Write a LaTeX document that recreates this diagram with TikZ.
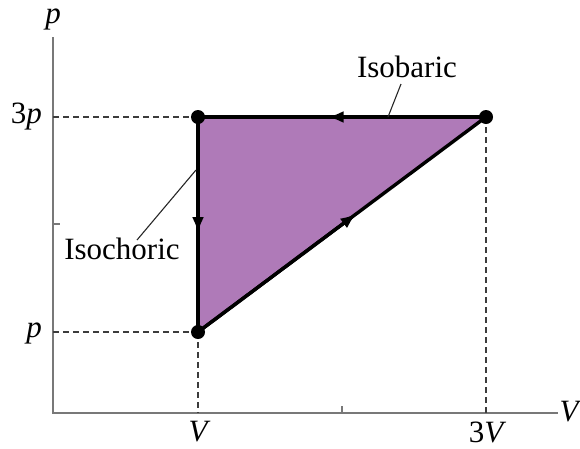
\documentclass[tikz,border=0pt]{standalone}
\usepackage{fontspec}
\setmainfont{Liberation Serif}
\usetikzlibrary{calc,arrows.meta}
\definecolor{cyclefill}{RGB}{175,122,184}
\definecolor{axisgray}{RGB}{120,120,120}
\definecolor{dashgray}{RGB}{60,60,60}
\tikzset{
  axisline/.style={draw=axisgray,line width=1.8pt},
  guide/.style={draw=dashgray,line width=1.3pt,dash pattern=on 6pt off 4pt},
  cycleedge/.style={line width=3.4pt,draw=black},
  halfarrow/.style={line width=3.4pt,draw=black,-{Latex[length=16pt,width=12pt]}},
  leader/.style={draw=black!85,line width=1.1pt},
  statedot/.style={circle,fill=black,inner sep=0pt,minimum size=14pt},
  lbl/.style={font=\fontsize{31}{31}\selectfont,inner sep=0pt},
}
\begin{document}
\begin{tikzpicture}[x=1pt,y=-1pt]
\useasboundingbox (0,0) rectangle (580,448);
% coordinates
\coordinate (O) at (53,413);
\coordinate (ytop) at (53,37);
\coordinate (xend) at (558,413);
\coordinate (y3p) at (53,117);
\coordinate (yp) at (53,332);
\coordinate (xV) at (198,413);
\coordinate (x3V) at (486,413);
% fill
\fill[cyclefill] (198,117) -- (486,117) -- (198,332) -- cycle;
% axes
\draw[axisline] (ytop) -- (O) -- (xend);
\draw[axisline] (53,224) -- (60,224);
\draw[axisline] (342,413) -- (342,406);
% guides
\draw[guide] (y3p) -- (198,117);
\draw[guide] (yp) -- (198,332);
\draw[guide] (198,332) -- (xV);
\draw[guide] (486,117) -- (x3V);
% state nodes
\node[statedot] (A) at (198,117) {};
\node[statedot] (B) at (486,117) {};
\node[statedot] (C) at (198,332) {};
% cycle edges
\draw[cycleedge] (B.center) -- (A.center);
\draw[cycleedge] (A.center) -- (C.center);
\draw[cycleedge] (C.center) -- (B.center);
\draw[halfarrow] (B.center) -- ($(B.center)!0.55!(A.center)$);
\draw[halfarrow] (A.center) -- ($(A.center)!0.54!(C.center)$);
\draw[halfarrow] (C.center) -- ($(C.center)!0.55!(B.center)$);
% labels
\node[lbl] (pax) at (53,19) {\itshape p};
\node[lbl] (Vax) at (569,412) {\itshape V};
\node[lbl,anchor=east] (l3p) at (42,117) {3\itshape p};
\node[lbl,anchor=east] (lp) at (42,333) {\itshape p};
\node[lbl] (lV) at (198,432) {\itshape V};
\node[lbl] (l3V) at (486,432) {3\itshape V};
% process labels
\node[lbl] (isobaric) at (407,67) {Isobaric};
\node[lbl] (isochoric) at (122,249) {Isochoric};
\coordinate (isobaricfoot) at (388,117);
\coordinate (isochoricfoot) at (196,170);
\draw[leader] (401,84) -- (isobaricfoot);
\draw[leader] (137,240) -- (isochoricfoot);
\end{tikzpicture}
\end{document}
